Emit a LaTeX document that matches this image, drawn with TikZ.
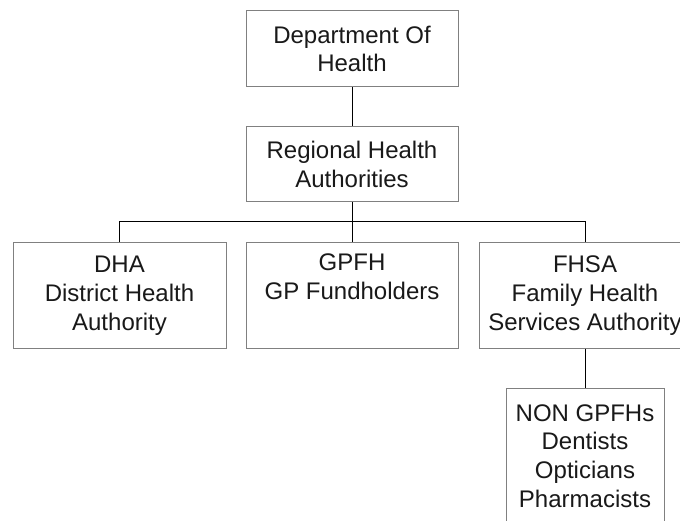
\documentclass[tikz,border=0pt]{standalone}
\usepackage{fontspec}
\setmainfont{Liberation Sans}
\begin{document}
\begin{tikzpicture}[x=1pt,y=-1pt,
  box/.style={draw=black!50, line width=1pt, fill=white, align=center, inner sep=0pt,
    font=\fontsize{24}{28.8}\selectfont, text=black!90},
  conn/.style={draw=black, line width=1pt}]
\useasboundingbox (0,0) rectangle (680,521);
\clip (0,0) rectangle (680,521);
\node[box, minimum width=212pt, minimum height=76pt] (dept) at (352,49) {Department Of\\Health};
\node[box, minimum width=212pt, minimum height=75pt] (rha) at (352,164.5) {Regional Health\\Authorities};
\node[box, minimum width=213pt, minimum height=105pt] (dha) at (119.5,295.5) {DHA\\District Health\\Authority};
\node[box, minimum width=212pt, minimum height=105pt] (gpfh) at (352,295.5) {GPFH\\GP Fundholders\\\strut};
\node[box, minimum width=212pt, minimum height=105pt] (fhsa) at (585,295.5) {FHSA\\Family Health\\Services Authority};
\node[box, minimum width=158pt, minimum height=136pt] (non) at (585,456) {NON GPFHs\\Dentists\\Opticians\\Pharmacists};
\coordinate (bl) at (dha.north |- 0,222);
\coordinate (br) at (fhsa.north |- 0,222);
\draw[conn] (dept) -- (rha);
\draw[conn] (rha) -- (gpfh);
\draw[conn] (dha.north) -- (bl) -- (br) -- (fhsa.north);
\draw[conn] (fhsa) -- (non);
\end{tikzpicture}
\end{document}
